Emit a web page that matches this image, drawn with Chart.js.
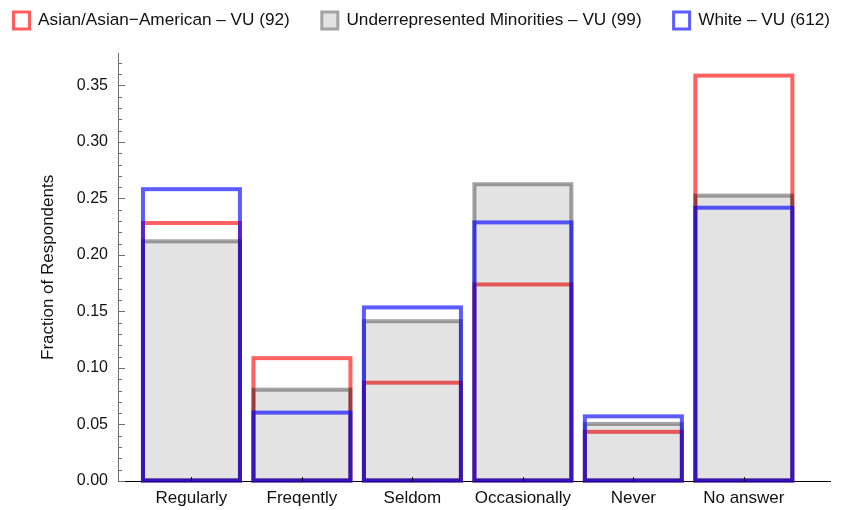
<!DOCTYPE html>
<html><head><meta charset="utf-8">
<script src="https://cdn.jsdelivr.net/npm/chart.js@4/dist/chart.umd.min.js"></script>
<style>html,body{margin:0;padding:0;background:#fff}</style>
</head><body>
<canvas id="c" width="853" height="510"></canvas>
<script>
const categories = ["Regularly", "Freqently", "Seldom", "Occasionally", "Never", "No answer"];
const seriesNames = ["Asian/Asian\u2212American \u2013 VU (92)", "Underrepresented Minorities \u2013 VU (99)", "White \u2013 VU (612)"];
const asianValues = [0.2283, 0.1087, 0.0870, 0.1739, 0.0435, 0.3587];
const minorityValues = [0.2121, 0.0808, 0.1414, 0.2626, 0.0505, 0.2525];
const whiteValues = [0.2582, 0.0605, 0.1536, 0.2288, 0.0572, 0.2418];
const yTickValues = [0, 0.05, 0.10, 0.15, 0.20, 0.25, 0.30, 0.35];
const yAxisTitle = "Fraction of Respondents";

const FONT = '"Liberation Sans", Arial, sans-serif';
const edgeColors = ['rgba(255,0,0,0.62)', 'rgba(0,0,0,0.36)', 'rgba(0,0,255,0.64)'];
const fillColors = ['rgba(0,0,0,0)', 'rgba(0,0,0,0.11)', 'rgba(0,0,0,0)'];
const legendFill = ['#ffffff', '#e3e3e3', '#ffffff'];
const legendStroke = ['#ff5e5e', '#a3a3a3', '#5c5cff'];

const PADL = -18.5, PADR = -15;

function toPoints(vals) { return vals.map((v, i) => ({x: i + 1, y: v})); }

const outlinePlugin = {
  id: 'outlines',
  afterDatasetDraw(chart, args) {
    const ctx = chart.ctx;
    ctx.save();
    ctx.strokeStyle = edgeColors[args.index];
    ctx.lineWidth = 4;
    ctx.lineJoin = 'miter';
    args.meta.data.forEach(el => {
      const p = el.getProps(['x', 'y', 'base', 'width'], true);
      ctx.strokeRect(p.x - p.width / 2, p.y, p.width, p.base - p.y);
    });
    ctx.restore();
  }
};

const tickPlugin = {
  id: 'inTicks',
  afterDraw(chart) {
    const ctx = chart.ctx;
    const ys = chart.scales.y, xs = chart.scales.x;
    const ax = ys.right;
    ctx.save();
    ctx.strokeStyle = '#6e6e6e';
    ctx.lineWidth = 1;
    ctx.beginPath();
    for (let k = 0; k <= 37; k++) {
      const v = k / 100;
      const py = Math.round(ys.getPixelForValue(v)) + 0.5;
      const len = (k % 5 === 0) ? 7 : 4;
      ctx.moveTo(ax, py); ctx.lineTo(ax + len, py);
    }
    ctx.stroke();
    ctx.strokeStyle = '#000';
    ctx.beginPath();
    const by = xs.top;
    categories.forEach((c, i) => {
      const px = Math.round(xs.getPixelForValue(i + 1)) + 0.5;
      ctx.moveTo(px, by); ctx.lineTo(px, by - 4);
    });
    ctx.stroke();
    ctx.restore();
  }
};

new Chart(document.getElementById('c'), {
  type: 'bar',
  data: {
    datasets: [
      {label: seriesNames[0], data: toPoints(asianValues), backgroundColor: fillColors[0], borderWidth: 0, order: 3},
      {label: seriesNames[1], data: toPoints(minorityValues), backgroundColor: fillColors[1], borderWidth: 0, order: 2},
      {label: seriesNames[2], data: toPoints(whiteValues), backgroundColor: fillColors[2], borderWidth: 0, order: 1}
    ]
  },
  options: {
    responsive: false,
    animation: false,
    grouped: false,
    barThickness: 97,
    inflateAmount: 0,
    layout: {padding: {left: PADL, right: PADR, top: -20, bottom: 0}},
    plugins: {
      tooltip: {enabled: false},
      legend: {
        display: true,
        position: 'top',
        align: 'start',
        labels: {
          font: {family: FONT, size: 17.2},
          color: '#111',
          boxWidth: 16,
          boxHeight: 17,
          padding: 32,
          generateLabels: () => seriesNames.map((n, i) => ({
            text: n, fillStyle: legendFill[i], strokeStyle: legendStroke[i],
            lineWidth: 3, hidden: false, datasetIndex: i, fontColor: '#111'
          }))
        }
      },
      title: {display: true, text: '', weight: 500, font: {size: 8}, padding: {top: 1, bottom: 4}}
    },
    scales: {
      x: {
        type: 'linear',
        min: 0.335,
        max: 6.78,
        offset: false,
        afterBuildTicks: (s) => { s.ticks = categories.map((c, i) => ({value: i + 1})); },
        afterFit: (s) => { s.height = 29; },
        grid: {display: true, drawOnChartArea: false, drawTicks: false, offset: false},
        border: {display: true, color: '#000', width: 1},
        ticks: {
          autoSkip: false, maxRotation: 0, padding: 7,
          font: {family: FONT, size: 17}, color: '#111',
          callback: (v) => categories[Math.round(v) - 1] || ''
        }
      },
      y: {
        type: 'linear',
        min: 0,
        max: 0.378,
        afterBuildTicks: (s) => { s.ticks = yTickValues.map(v => ({value: v})); },
        afterFit: (s) => { s.width = 118 - PADL; },
        grid: {display: true, drawOnChartArea: false, drawTicks: false},
        border: {display: true, color: '#6e6e6e', width: 1},
        ticks: {
          padding: 10,
          font: {family: FONT, size: 16}, color: '#111',
          callback: (v) => Number(v).toFixed(2)
        },
        title: {
          display: true, text: yAxisTitle,
          font: {family: FONT, size: 17}, color: '#111',
          padding: {top: 38 - PADL, bottom: 0}
        }
      },
      ySpacer: {
        type: 'linear',
        position: 'right',
        display: true,
        afterBuildTicks: (s) => { s.ticks = []; },
        afterFit: (s) => { s.width = 23 - PADR; },
        grid: {display: false, drawTicks: false},
        border: {display: false},
        ticks: {display: false}
      }
    }
  },
  plugins: [outlinePlugin, tickPlugin]
});
</script>
</body></html>
